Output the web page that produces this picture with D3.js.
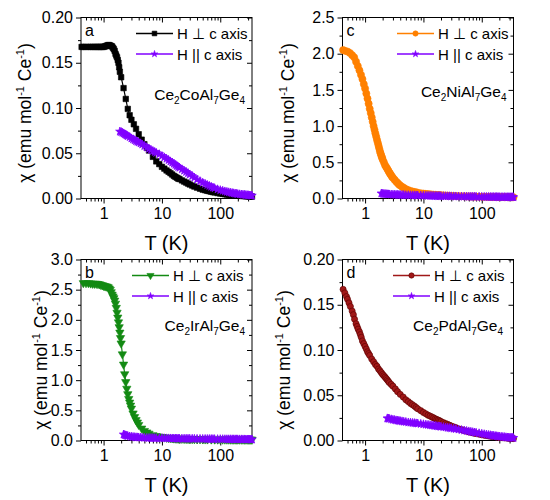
<!DOCTYPE html>
<html><head><meta charset="utf-8">
<script src="https://cdn.jsdelivr.net/npm/d3@7"></script>
<style>
body{margin:0;background:#fff;}
text{font-family:"Liberation Sans",Arial,sans-serif;fill:#000;}
</style></head>
<body><svg id="c" width="550" height="500"></svg>
<script>
// ---------- DATA ----------  each entry: [T (K), chi (emu mol^-1 Ce^-1)]
const xTickValues = [1, 10, 100];
const xTickLabels = ["1", "10", "100"];
const xDomain = [0.41, 350];

// Panel a: Ce2CoAl7Ge4
const coPerp = [[0.42,0.1675],[0.45,0.1675],[0.5,0.1675],[0.55,0.1675],[0.6,0.1675],[0.65,0.1675],[0.7,0.1675],[0.75,0.1675],[0.8,0.1675],[0.85,0.1675],[0.9,0.1675],[0.95,0.1675],[1.0,0.1675],[1.05,0.168],[1.1,0.1685],[1.15,0.169],[1.2,0.1695],[1.25,0.1695],[1.3,0.169],[1.35,0.1685],[1.4,0.168],[1.45,0.1665],[1.5,0.165],[1.55,0.163],[1.6,0.160],[1.65,0.158],[1.7,0.156],[1.75,0.153],[1.8,0.150],[1.85,0.145],[1.9,0.140],[2.0,0.134],[2.2,0.122],[2.4,0.110],[2.6,0.099],[2.8,0.092],[3.0,0.087],[3.3,0.082],[3.6,0.077],[4.0,0.071],[4.5,0.065],[5.0,0.060],[5.5,0.056],[6,0.053],[7,0.046],[8,0.041],[9,0.038],[10,0.035],[11,0.033],[12,0.031],[13,0.0295],[14,0.028],[15,0.0265],[16,0.025],[17,0.024],[18,0.023],[19,0.022],[20,0.0215],[22,0.020],[24,0.0187],[26,0.0176],[28,0.0165],[30,0.0155],[33,0.0143],[36,0.0132],[40,0.012],[45,0.0108],[50,0.0098],[55,0.0091],[60,0.0085],[65,0.008],[70,0.0075],[75,0.0071],[80,0.0067],[90,0.006],[100,0.0055],[110,0.0051],[120,0.0047],[130,0.0044],[140,0.0042],[150,0.0039],[160,0.0037],[170,0.0035],[180,0.0034],[190,0.0032],[200,0.0031],[215,0.003],[230,0.0029],[245,0.0028],[260,0.0027],[275,0.0025],[290,0.0024],[305,0.0024],[320,0.0023],[335,0.0022],[350,0.0022]];
const coPar = [[1.9,0.074],[2.0,0.0735],[2.1,0.0728],[2.2,0.072],[2.3,0.0712],[2.4,0.0705],[2.5,0.0698],[2.6,0.069],[2.8,0.068],[3.0,0.0665],[3.2,0.0655],[3.4,0.0645],[3.6,0.0635],[3.8,0.0628],[4.0,0.062],[4.3,0.061],[4.6,0.0598],[5.0,0.058],[5.5,0.0565],[6,0.055],[6.5,0.0538],[7,0.0525],[7.5,0.0515],[8,0.0505],[9,0.049],[10,0.047],[11,0.0455],[12,0.044],[13,0.0425],[14,0.041],[15,0.0397],[16,0.0385],[17,0.0372],[18,0.036],[19,0.035],[20,0.034],[22,0.0323],[24,0.0308],[26,0.0294],[28,0.028],[30,0.0265],[33,0.0248],[36,0.0232],[40,0.021],[45,0.0192],[50,0.0175],[55,0.0162],[60,0.015],[65,0.014],[70,0.013],[75,0.0122],[80,0.0115],[90,0.0102],[100,0.0093],[110,0.0086],[120,0.0079],[130,0.0074],[140,0.0069],[150,0.0065],[160,0.0061],[170,0.0058],[180,0.0055],[190,0.0052],[200,0.005],[215,0.0047],[230,0.0045],[245,0.0043],[260,0.0041],[275,0.0039],[290,0.0037],[305,0.0036],[320,0.0034],[335,0.0033],[350,0.0032]];

// Panel c: Ce2NiAl7Ge4
const niPerp = [[0.42,2.05],[0.45,2.04],[0.5,2.03],[0.55,2.01],[0.6,1.98],[0.65,1.95],[0.7,1.89],[0.75,1.83],[0.8,1.77],[0.85,1.71],[0.9,1.65],[0.95,1.58],[1.0,1.52],[1.05,1.45],[1.1,1.38],[1.15,1.31],[1.2,1.24],[1.25,1.18],[1.3,1.12],[1.35,1.06],[1.4,1.00],[1.45,0.95],[1.5,0.90],[1.55,0.855],[1.6,0.81],[1.65,0.77],[1.7,0.73],[1.75,0.69],[1.8,0.65],[1.85,0.62],[1.9,0.59],[1.95,0.565],[2.0,0.54],[2.1,0.50],[2.2,0.46],[2.3,0.435],[2.4,0.41],[2.5,0.385],[2.6,0.36],[2.7,0.34],[2.8,0.32],[2.9,0.30],[3.0,0.285],[3.2,0.26],[3.4,0.235],[3.6,0.215],[3.8,0.195],[4.0,0.18],[4.3,0.163],[4.6,0.148],[5.0,0.13],[5.5,0.115],[6,0.104],[6.5,0.097],[7,0.09],[7.5,0.085],[8,0.08],[9,0.073],[10,0.068],[11,0.064],[12,0.06],[13,0.0575],[14,0.055],[15,0.0525],[16,0.05],[17,0.0485],[18,0.047],[19,0.046],[20,0.045],[22,0.043],[24,0.041],[26,0.0395],[28,0.038],[30,0.0365],[33,0.035],[36,0.034],[40,0.033],[45,0.0315],[50,0.030],[55,0.029],[60,0.028],[65,0.0275],[70,0.027],[75,0.0265],[80,0.026],[90,0.025],[100,0.024],[110,0.0235],[120,0.023],[130,0.0225],[140,0.022],[150,0.0215],[160,0.021],[170,0.021],[180,0.0205],[190,0.0205],[200,0.020],[215,0.020],[230,0.0195],[245,0.0195],[260,0.019],[275,0.019],[290,0.0185],[305,0.0185],[320,0.018],[335,0.018],[350,0.018]];
const niPar = [[1.9,0.07],[2.0,0.066],[2.1,0.064],[2.2,0.062],[2.3,0.0605],[2.4,0.059],[2.5,0.058],[2.6,0.057],[2.8,0.055],[3.0,0.054],[3.2,0.053],[3.4,0.052],[3.6,0.051],[3.8,0.0505],[4.0,0.05],[4.3,0.049],[4.6,0.0485],[5.0,0.047],[5.5,0.046],[6,0.045],[6.5,0.0445],[7,0.044],[7.5,0.043],[8,0.042],[9,0.041],[10,0.04],[11,0.039],[12,0.038],[13,0.0375],[14,0.037],[15,0.036],[16,0.035],[17,0.0345],[18,0.034],[19,0.0335],[20,0.033],[22,0.032],[24,0.0315],[26,0.031],[28,0.0305],[30,0.03],[33,0.0295],[36,0.029],[40,0.028],[45,0.0275],[50,0.027],[55,0.0265],[60,0.026],[65,0.0255],[70,0.025],[75,0.0245],[80,0.024],[90,0.024],[100,0.023],[110,0.0225],[120,0.022],[130,0.022],[140,0.022],[150,0.0215],[160,0.021],[170,0.021],[180,0.021],[190,0.0205],[200,0.02],[215,0.02],[230,0.02],[245,0.0195],[260,0.0195],[275,0.019],[290,0.019],[305,0.019],[320,0.0185],[335,0.0185],[350,0.018]];

// Panel b: Ce2IrAl7Ge4
const irPerp = [[0.45,2.61],[0.5,2.61],[0.55,2.61],[0.6,2.605],[0.65,2.60],[0.7,2.60],[0.75,2.60],[0.8,2.595],[0.85,2.59],[0.9,2.58],[0.95,2.575],[1.0,2.565],[1.05,2.56],[1.1,2.555],[1.15,2.55],[1.2,2.54],[1.25,2.52],[1.3,2.50],[1.35,2.46],[1.4,2.42],[1.45,2.39],[1.5,2.36],[1.55,2.32],[1.6,2.27],[1.65,2.20],[1.7,2.12],[1.75,2.04],[1.8,1.96],[1.85,1.88],[1.9,1.79],[1.95,1.70],[2.0,1.61],[2.1,1.43],[2.2,1.26],[2.3,1.10],[2.4,0.97],[2.5,0.86],[2.6,0.77],[2.7,0.69],[2.8,0.63],[2.9,0.58],[3.0,0.53],[3.2,0.45],[3.4,0.39],[3.6,0.34],[3.8,0.30],[4.0,0.26],[4.5,0.20],[5,0.16],[5.5,0.135],[6,0.115],[7,0.09],[8,0.076],[9,0.066],[10,0.059],[11,0.053],[12,0.048],[13,0.044],[14,0.041],[15,0.0385],[16,0.036],[17,0.0345],[18,0.033],[19,0.032],[20,0.031],[22,0.029],[24,0.0278],[26,0.0268],[28,0.026],[30,0.025],[33,0.024],[36,0.023],[40,0.022],[45,0.0215],[50,0.021],[55,0.0205],[60,0.02],[70,0.0195],[80,0.019],[90,0.0185],[100,0.018],[110,0.018],[120,0.018],[130,0.0175],[140,0.0175],[150,0.017],[160,0.017],[170,0.017],[180,0.017],[190,0.017],[200,0.017],[215,0.0165],[230,0.0165],[245,0.0165],[260,0.016],[275,0.016],[290,0.016],[305,0.016],[320,0.016],[335,0.016],[350,0.016]];
const irPar = [[2.2,0.10],[2.3,0.092],[2.4,0.085],[2.5,0.08],[2.6,0.075],[2.8,0.068],[3.0,0.063],[3.2,0.059],[3.4,0.056],[3.6,0.054],[3.8,0.0525],[4.0,0.051],[4.3,0.0495],[4.6,0.048],[5.0,0.046],[5.5,0.044],[6,0.043],[6.5,0.042],[7,0.041],[7.5,0.0405],[8,0.04],[9,0.039],[10,0.038],[11,0.037],[12,0.036],[13,0.0355],[14,0.035],[15,0.0345],[16,0.034],[17,0.0335],[18,0.033],[19,0.0325],[20,0.032],[22,0.0315],[24,0.031],[26,0.0305],[28,0.0302],[30,0.03],[33,0.0295],[36,0.029],[40,0.028],[45,0.0275],[50,0.027],[55,0.0265],[60,0.026],[65,0.0255],[70,0.025],[75,0.0245],[80,0.024],[90,0.023],[100,0.023],[110,0.0225],[120,0.022],[130,0.0215],[140,0.021],[150,0.021],[160,0.021],[170,0.0205],[180,0.02],[190,0.02],[200,0.02],[215,0.0195],[230,0.0195],[245,0.019],[260,0.019],[275,0.018],[290,0.018],[305,0.018],[320,0.0175],[335,0.017],[350,0.017]];

// Panel d: Ce2PdAl7Ge4
const pdPerp = [[0.42,0.167],[0.45,0.163],[0.48,0.159],[0.5,0.156],[0.53,0.152],[0.56,0.148],[0.6,0.143],[0.63,0.139],[0.66,0.134],[0.7,0.129],[0.73,0.126],[0.76,0.123],[0.8,0.120],[0.83,0.117],[0.86,0.114],[0.9,0.110],[0.95,0.107],[1.0,0.104],[1.05,0.101],[1.1,0.098],[1.15,0.096],[1.2,0.094],[1.3,0.090],[1.4,0.087],[1.5,0.084],[1.6,0.082],[1.7,0.079],[1.8,0.077],[1.9,0.075],[2.0,0.073],[2.1,0.0715],[2.2,0.070],[2.3,0.0685],[2.4,0.067],[2.5,0.0655],[2.6,0.064],[2.8,0.062],[3.0,0.060],[3.3,0.057],[3.6,0.054],[4,0.051],[4.5,0.048],[5,0.045],[5.5,0.043],[6,0.041],[6.5,0.0395],[7,0.038],[7.5,0.0365],[8,0.035],[9,0.033],[10,0.031],[11,0.0295],[12,0.028],[13,0.027],[14,0.026],[15,0.025],[16,0.024],[17,0.0232],[18,0.0225],[19,0.0218],[20,0.021],[22,0.0198],[24,0.0188],[26,0.0178],[28,0.0169],[30,0.016],[33,0.0151],[36,0.0142],[40,0.013],[45,0.012],[50,0.011],[55,0.0102],[60,0.0095],[65,0.009],[70,0.0085],[75,0.0081],[80,0.0077],[90,0.007],[100,0.0064],[110,0.0059],[120,0.0055],[130,0.0051],[140,0.0048],[150,0.0045],[160,0.0043],[170,0.0041],[180,0.0039],[190,0.0037],[200,0.0035],[215,0.0033],[230,0.0031],[245,0.003],[260,0.0028],[275,0.0027],[290,0.0026],[305,0.0025],[320,0.0024],[335,0.0023],[350,0.0022]];
const pdPar = [[2.4,0.0245],[2.5,0.0243],[2.6,0.024],[2.8,0.0235],[3.0,0.023],[3.2,0.0227],[3.4,0.0223],[3.6,0.022],[3.8,0.0218],[4.0,0.0215],[4.3,0.0212],[4.6,0.0208],[5.0,0.0205],[5.5,0.020],[6,0.0198],[6.5,0.0195],[7,0.0193],[7.5,0.019],[8,0.0188],[9,0.0184],[10,0.018],[11,0.0176],[12,0.0173],[13,0.017],[14,0.0167],[15,0.0164],[16,0.0162],[17,0.0159],[18,0.0157],[19,0.0155],[20,0.0153],[22,0.0149],[24,0.0145],[26,0.0141],[28,0.0138],[30,0.0135],[33,0.0131],[36,0.0127],[40,0.0122],[45,0.0116],[50,0.0111],[55,0.0106],[60,0.0101],[65,0.0097],[70,0.0093],[75,0.0089],[80,0.0086],[90,0.008],[100,0.0075],[110,0.007],[120,0.0066],[130,0.0062],[140,0.0059],[150,0.0056],[160,0.0053],[170,0.005],[180,0.0048],[190,0.0046],[200,0.0044],[215,0.0042],[230,0.004],[245,0.0038],[260,0.0036],[275,0.0034],[290,0.0033],[305,0.0032],[320,0.0031],[335,0.003],[350,0.0028]];

const legendLabels = ["H \u22A5 c axis", "H || c axis"];
const panelLetters = ["a", "c", "b", "d"];
const compounds = [["Ce","2","CoAl","7","Ge","4"],["Ce","2","NiAl","7","Ge","4"],["Ce","2","IrAl","7","Ge","4"],["Ce","2","PdAl","7","Ge","4"]];
const yTicksA = [0, 0.05, 0.10, 0.15, 0.20];
const yTicksC = [0, 0.5, 1.0, 1.5, 2.0, 2.5];
const yTicksB = [0, 0.5, 1.0, 1.5, 2.0, 2.5, 3.0];
const yTicksD = [0, 0.05, 0.10, 0.15, 0.20];

const purple = "#8000ff";

// ---------- DRAW ----------
const svg = d3.select("#c");
const PW = 171, PH = 181;

const panels = [
  {left:81, top:17.5, yTicks:yTicksA, fmt:".2f", perp:coPerp, par:coPar,
   color:"#000000", stroke:"#000000", sym:d3.symbolSquare, symSize:30, letter:0, comp:0,
   ylabX:25, ylabY:113, legX:136, compX:245, compY:100},
  {left:342.5, top:17.5, yTicks:yTicksC, fmt:".1f", perp:niPerp, par:niPar,
   color:"#ff8000", stroke:"#ff8000", sym:d3.symbolCircle, symSize:40, letter:1, comp:1,
   ylabX:288, ylabY:113, legX:397, compX:506.5, compY:96.5},
  {left:81, top:259.5, yTicks:yTicksB, fmt:".1f", perp:irPerp, par:irPar,
   color:"#138a13", stroke:"#138a13", sym:d3.symbolTriangle, symSize:30, flip:true, letter:2, comp:2,
   ylabX:41, ylabY:360, legX:132, compX:245, compY:331},
  {left:342.5, top:259.5, yTicks:yTicksD, fmt:".2f", perp:pdPerp, par:pdPar,
   color:"#a01818", stroke:"#5a0000", sym:d3.symbolCircle, symSize:30, letter:3, comp:3,
   ylabX:284, ylabY:360, legX:393, compX:503, compY:331}
];

panels.forEach(p => {
  const g = svg.append("g").attr("transform", `translate(${p.left},${p.top})`);
  const x = d3.scaleLog().domain(xDomain).range([0, PW]);
  const yMax = p.yTicks[p.yTicks.length-1];
  const y = d3.scaleLinear().domain([0, yMax]).range([PH, 0]);
  const step = p.yTicks[1]-p.yTicks[0];
  const yMinor = d3.range(p.yTicks.length-1).map(i => p.yTicks[i] + step/2);
  const xMinor = [];
  [0.1,1,10,100].forEach(dec => { for (let k=2;k<=9;k++){ const v=dec*k; if (v>=xDomain[0] && v<=xDomain[1]) xMinor.push(v);} });

  g.append("rect").attr("width", PW).attr("height", PH).attr("fill","none").attr("stroke","#000").attr("stroke-width",1);

  const style = sel => { sel.select(".domain").remove(); sel.selectAll("line").attr("stroke","#000"); sel.selectAll("text").attr("font-size","16px").attr("font-family",'"Liberation Sans",Arial,sans-serif').attr("fill","#000"); };

  g.append("g").attr("transform",`translate(0,${PH})`)
    .call(d3.axisBottom(x).tickValues(xTickValues).tickFormat((d,i)=>xTickLabels[i]).tickSizeInner(5).tickSizeOuter(0).tickPadding(4)).call(style);
  g.append("g").attr("transform",`translate(0,${PH})`)
    .call(d3.axisBottom(x).tickValues(xMinor).tickFormat("").tickSizeInner(3).tickSizeOuter(0)).call(style);
  g.append("g").call(d3.axisTop(x).tickValues(xTickValues).tickFormat("").tickSizeInner(-5).tickSizeOuter(0)).call(style);
  g.append("g").call(d3.axisTop(x).tickValues(xMinor).tickFormat("").tickSizeInner(-3).tickSizeOuter(0)).call(style);
  g.append("g").call(d3.axisLeft(y).tickValues(p.yTicks).tickFormat(d3.format(p.fmt)).tickSizeInner(5).tickSizeOuter(0).tickPadding(3)).call(style);
  g.append("g").call(d3.axisLeft(y).tickValues(yMinor).tickFormat("").tickSizeInner(3).tickSizeOuter(0)).call(style);
  g.append("g").attr("transform",`translate(${PW},0)`).call(d3.axisRight(y).tickValues(p.yTicks).tickFormat("").tickSizeInner(-5).tickSizeOuter(0)).call(style);
  g.append("g").attr("transform",`translate(${PW},0)`).call(d3.axisRight(y).tickValues(yMinor).tickFormat("").tickSizeInner(-3).tickSizeOuter(0)).call(style);

  const line = d3.line().x(d=>x(d[0])).y(d=>y(d[1]));
  const symPerp = d3.symbol().type(p.sym).size(p.symSize);
  const symPar = d3.symbol().type(d3.symbolStar).size(22);

  g.append("path").datum(p.perp).attr("d", line).attr("fill","none").attr("stroke",p.color).attr("stroke-width",1.2);
  g.append("g").selectAll("path").data(p.perp).join("path")
    .attr("d", symPerp).attr("transform", d=>`translate(${x(d[0])},${y(d[1])})${p.flip?" rotate(180)":""}`)
    .attr("fill", p.color).attr("stroke", p.stroke).attr("stroke-width",0.6);
  g.append("path").datum(p.par).attr("d", line).attr("fill","none").attr("stroke",purple).attr("stroke-width",1.5);
  g.append("g").selectAll("path").data(p.par).join("path")
    .attr("d", symPar).attr("transform", d=>`translate(${x(d[0])},${y(d[1])})`)
    .attr("fill", purple).attr("stroke", purple).attr("stroke-width",0.8);

  const lg = svg.append("g");
  [0,1].forEach(i => {
    const cy = p.top + 16 + i*20.5;
    const col = i===0 ? p.color : purple;
    lg.append("line").attr("x1",p.legX).attr("x2",p.legX+37).attr("y1",cy).attr("y2",cy).attr("stroke",col).attr("stroke-width",1.5);
    lg.append("path").attr("d", i===0 ? d3.symbol().type(p.sym).size(22)() : d3.symbol().type(d3.symbolStar).size(14)())
      .attr("transform",`translate(${p.legX+18.5},${cy})${(i===0&&p.flip)?" rotate(180)":""}`)
      .attr("fill", col).attr("stroke", i===0 ? p.stroke : purple).attr("stroke-width",0.6);
    lg.append("text").attr("x",p.legX+41).attr("y",cy+5.5).attr("font-size","15px").text(legendLabels[i]);
  });

  svg.append("text").attr("x",p.left+4).attr("y",p.top+18).attr("font-size","16px").text(panelLetters[p.letter]);

  const ct = svg.append("text").attr("x",p.compX).attr("y",p.compY).attr("text-anchor","end").attr("font-size","15.5px");
  compounds[p.comp].forEach((s,i) => {
    const sub = i%2===1;
    const ts = ct.append("tspan").text(s);
    if (sub) ts.attr("font-size","10px").attr("dy","4");
    else if (i>0) ts.attr("dy","-4");
  });

  svg.append("text").attr("x",p.left+PW/2).attr("y",p.top+PH+51).attr("text-anchor","middle").attr("font-size","20px").text("T (K)");

  const yt = svg.append("text").attr("transform",`translate(${p.ylabX},${p.ylabY}) rotate(-90)`)
    .attr("text-anchor","middle").attr("dy","0.35em").attr("font-size","17.5px");
  yt.append("tspan").text("\u03C7 (emu mol");
  yt.append("tspan").attr("font-size","11px").attr("dy","-7").text("-1");
  yt.append("tspan").attr("dy","7").text(" Ce");
  yt.append("tspan").attr("font-size","11px").attr("dy","-7").text("-1");
  yt.append("tspan").attr("dy","7").text(")");
});
</script></body></html>
